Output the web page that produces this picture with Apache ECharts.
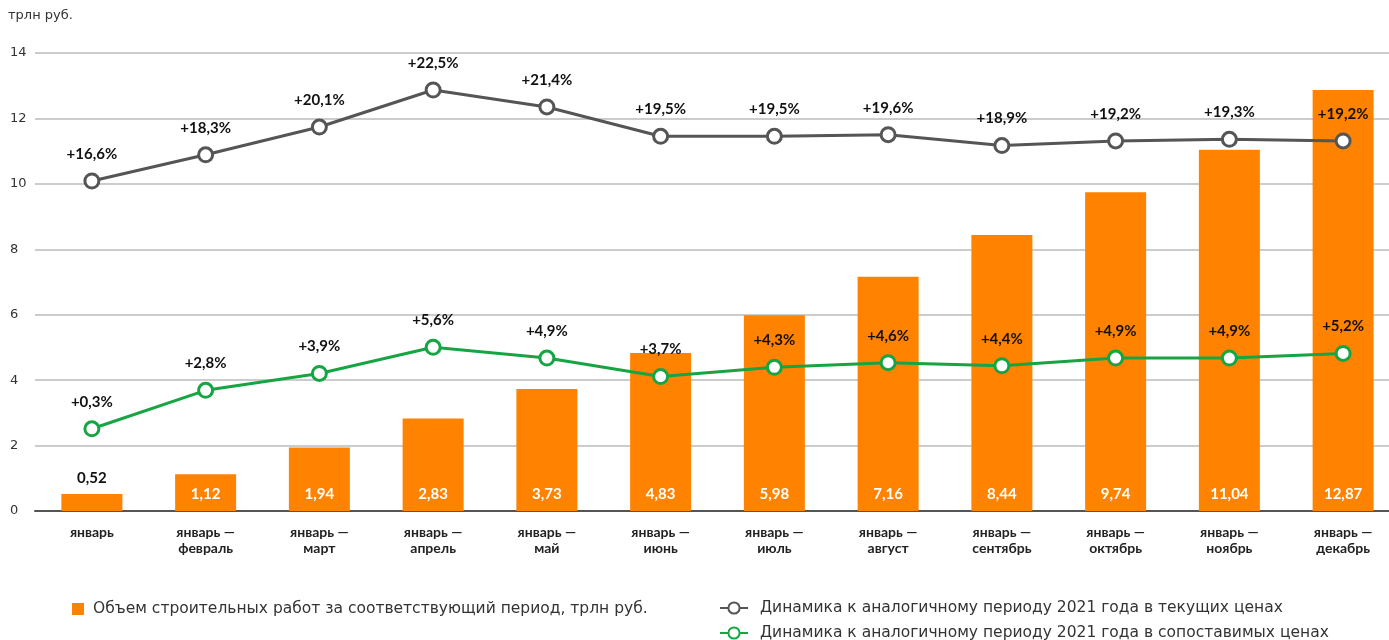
<!DOCTYPE html>
<html><head><meta charset="utf-8">
<script src="https://cdn.jsdelivr.net/npm/echarts@6/dist/echarts.min.js"></script>
<style>html,body{margin:0;padding:0;background:#fff}#c{width:1389px;height:640px}</style>
</head><body><div id="c"></div>
<script>
const categories = ['январь','январь —\nфевраль','январь —\nмарт','январь —\nапрель','январь —\nмай','январь —\nиюнь','январь —\nиюль','январь —\nавгуст','январь —\nсентябрь','январь —\nоктябрь','январь —\nноябрь','январь —\nдекабрь'];
const volume = [0.52,1.12,1.94,2.83,3.73,4.83,5.98,7.16,8.44,9.74,11.04,12.87];
const currentPct = [16.6,18.3,20.1,22.5,21.4,19.5,19.5,19.6,18.9,19.2,19.3,19.2];
const comparablePct = [0.3,2.8,3.9,5.6,4.9,3.7,4.3,4.6,4.4,4.9,4.9,5.2];
const yTicks = [0,2,4,6,8,10,12,14];
const unitLabel = 'трлн руб.';
const names = ['Объем строительных работ за соответствующий период, трлн руб.','Динамика к аналогичному периоду 2021 года в текущих ценах','Динамика к аналогичному периоду 2021 года в сопоставимых ценах'];

const fmt = v => String(v).replace('.', ',');
const chart = echarts.init(document.getElementById('c'));
const lblFont = 'Lato';
const legFont = {fontSize:15.5, color:'#333', fontFamily:'DejaVu Sans'};
chart.setOption({
  animation: false,
  textStyle: {fontFamily: 'Lato'},
  grid: {left: 35, width: 1365, top: 53, bottom: 129, outerBoundsMode: 'none', containLabel: false},
  graphic: [{type:'text', left: 8, top: 9, style:{text: unitLabel, fontSize: 13, fill:'#333', fontFamily:'DejaVu Sans'}}],
  legend: [
    {data:[names[0]], left: 67, top: 596, itemWidth: 12, itemHeight: 12, icon:'rect', textStyle: Object.assign({padding:[0,0,0,4]}, legFont)},
    {data:[names[1]], left: 714, top: 595, itemWidth: 28, itemHeight: 14, textStyle: Object.assign({padding:[0,0,0,7]}, legFont)},
    {data:[names[2]], left: 714, top: 620, itemWidth: 28, itemHeight: 14, textStyle: Object.assign({padding:[0,0,0,7]}, legFont)}
  ],
  xAxis: {type:'category', data: categories,
    axisLine:{lineStyle:{color:'#555', width:2}}, axisTick:{show:false},
    axisLabel:{interval:0, fontWeight:'bold', fontSize:14, color:'#222', lineHeight:16.5, margin:13, fontFamily: lblFont}},
  yAxis: [
    {type:'value', min: yTicks[0], max: yTicks[yTicks.length-1], interval: 2,
      axisLabel:{fontSize:13, color:'#333', align:'left', margin: 25, fontFamily:'DejaVu Sans'},
      splitLine:{lineStyle:{color:'#bbb', width:1.5}}},
    {type:'value', min:-4.8, max:24.9, show:false, splitLine:{show:false}},
    {type:'value', min:-5.05, max:24.75, show:false, splitLine:{show:false}}
  ],
  series: [
    {name: names[0], type:'bar', barWidth: 61, itemStyle:{color:'#ff8300'},
      data: volume.map((v,i)=> i===0 ? {value:v, label:{position:'top', color:'#111', distance:8}} : v),
      label:{show:true, position:'insideBottom', distance:9, color:'#fff', fontWeight:'bold', fontSize:15, fontFamily: lblFont, formatter: p=>fmt(p.value)}},
    {name: names[1], type:'line', yAxisIndex:1, data: currentPct, symbol:'circle', symbolSize:14,
      itemStyle:{color:'#fff', borderColor:'#555', borderWidth:3}, lineStyle:{color:'#555', width:3},
      label:{show:true, position:'top', distance:11, color:'#111', fontWeight:'bold', fontSize:15, fontFamily: lblFont, formatter: p=>'+'+fmt(p.value)+'%'}, z:5},
    {name: names[2], type:'line', yAxisIndex:2, data: comparablePct, symbol:'circle', symbolSize:14,
      itemStyle:{color:'#fff', borderColor:'#17a544', borderWidth:3}, lineStyle:{color:'#17a544', width:3},
      label:{show:true, position:'top', distance:11, color:'#111', fontWeight:'bold', fontSize:15, fontFamily: lblFont, formatter: p=>'+'+fmt(p.value)+'%'}, z:5}
  ]
});
</script></body></html>
